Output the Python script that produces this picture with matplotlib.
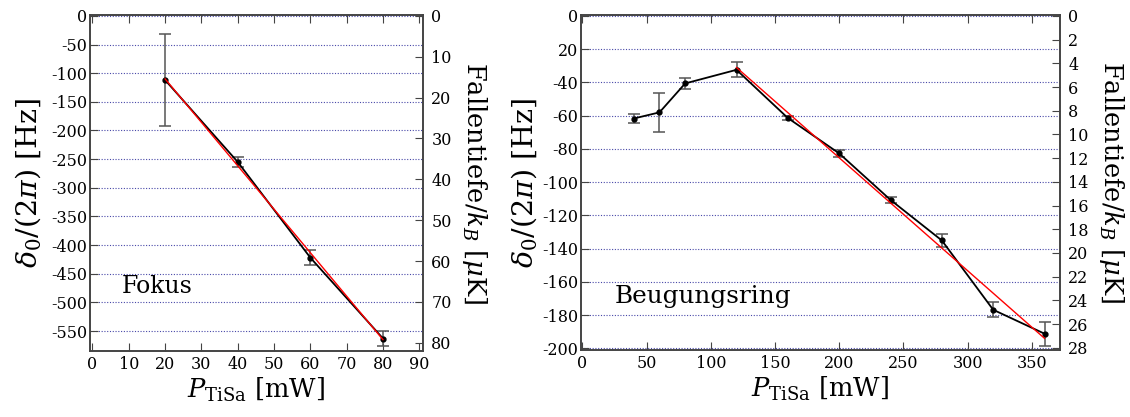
import matplotlib
matplotlib.use("Agg")
import matplotlib.pyplot as plt

plt.rcParams['font.family'] = ['DejaVu Serif']
plt.rcParams['mathtext.fontset'] = 'dejavuserif'
plt.rcParams['axes.unicode_minus'] = False

# Fokus
fokus_p = [20, 40, 60, 80]
fokus_d = [-112, -255, -422, -563]
fokus_err = [80, 9, 13, 13]
fokus_fit_p = [20, 80]
fokus_fit_d = [-110, -565]
fokus_xticks = [0, 10, 20, 30, 40, 50, 60, 70, 80, 90]
fokus_yticks = [0, -50, -100, -150, -200, -250, -300, -350, -400, -450, -500, -550]
fokus_rticks = [0, 10, 20, 30, 40, 50, 60, 70, 80]

# Beugungsring
ring_p = [40, 60, 80, 120, 160, 200, 240, 280, 320, 360]
ring_d = [-61.7, -58, -40.6, -32.4, -61.4, -82.7, -110.7, -135.1, -176.8, -191.2]
ring_err = [3, 11.7, 3.5, 4.4, 1.5, 2, 2, 4, 4.6, 7.2]
ring_fit_p = [120, 360]
ring_fit_d = [-31, -194]
ring_xticks = [0, 50, 100, 150, 200, 250, 300, 350]
ring_yticks = [0, -20, -40, -60, -80, -100, -120, -140, -160, -180, -200]
ring_ylabels = ['0', '20', '-40', '-60', '-80', '-100', '-120', '-140', '-160', '-180', '-200']
ring_rticks = list(range(0, 29, 2))

HZ_PER_UK = 7.13

fig = plt.figure(figsize=(11.3, 4.17), dpi=100)
ax1 = fig.add_axes([0.0796, 0.158, 0.2947, 0.806])
ax2 = fig.add_axes([0.514, 0.1607, 0.424, 0.803])

spine_col = '#444444'


def style(ax, xlim, ylim, xticks, yticks, ylabels, rticks, name, name_pos, name_size, ypad):
    ax.set_xlim(*xlim)
    ax.set_ylim(*ylim)
    ax.set_xticks(xticks)
    ax.set_yticks(yticks)
    if ylabels is not None:
        ax.set_yticklabels(ylabels)
    for y in yticks:
        ax.axhline(y, color='#4848a8', lw=0.8, ls=(0, (1, 1.5)), zorder=0)
    ax.tick_params(direction='in', top=True, right=False, length=6, labelsize=11.5,
                   color=spine_col)
    ax.tick_params(axis='y', pad=2)
    for s in ax.spines.values():
        s.set_color(spine_col)
        s.set_linewidth(1.2)
    ax.set_xlabel(r'$P_{\mathrm{TiSa}}$ [mW]', fontsize=18.5, labelpad=2)
    ax.set_ylabel(r'$\delta_0/(2\pi)$ [Hz]', fontsize=20.5, labelpad=ypad)
    ax.text(name_pos[0], name_pos[1], name, transform=ax.transAxes, fontsize=name_size,
            va='center', ha='left')
    twin = ax.twinx()
    twin.set_ylim(-ylim[0] / HZ_PER_UK, -ylim[1] / HZ_PER_UK)
    twin.set_yticks(rticks)
    twin.tick_params(direction='in', length=6, labelsize=11.5, color=spine_col, pad=6)
    for s in twin.spines.values():
        s.set_color(spine_col)
        s.set_linewidth(1.2)
    twin.set_ylabel(r'Fallentiefe/$k_B$ [$\mu$K]', fontsize=18.5, rotation=270, labelpad=27)
    return twin


style(ax1, (-0.7, 91), (-585, 1.5), fokus_xticks, fokus_yticks, None, fokus_rticks,
      'Fokus', (0.095, 0.193), 17, 6)
style(ax2, (-1.3, 372), (-201, 0.5), ring_xticks, ring_yticks, ring_ylabels, ring_rticks,
      'Beugungsring', (0.07, 0.159), 17.8, 2)

for ax, p, d, e, fp, fd in [(ax1, fokus_p, fokus_d, fokus_err, fokus_fit_p, fokus_fit_d),
                            (ax2, ring_p, ring_d, ring_err, ring_fit_p, ring_fit_d)]:
    ax.errorbar(p, d, yerr=e, fmt='none', ecolor='#555555', elinewidth=1.1,
                capsize=4, capthick=1.1, zorder=2)
    ax.plot(p, d, color='black', lw=1.3, marker='o', ms=3.5, zorder=3)
    ax.plot(fp, fd, color='red', lw=1.0, zorder=4)

fig.savefig('out.png', dpi=100)
